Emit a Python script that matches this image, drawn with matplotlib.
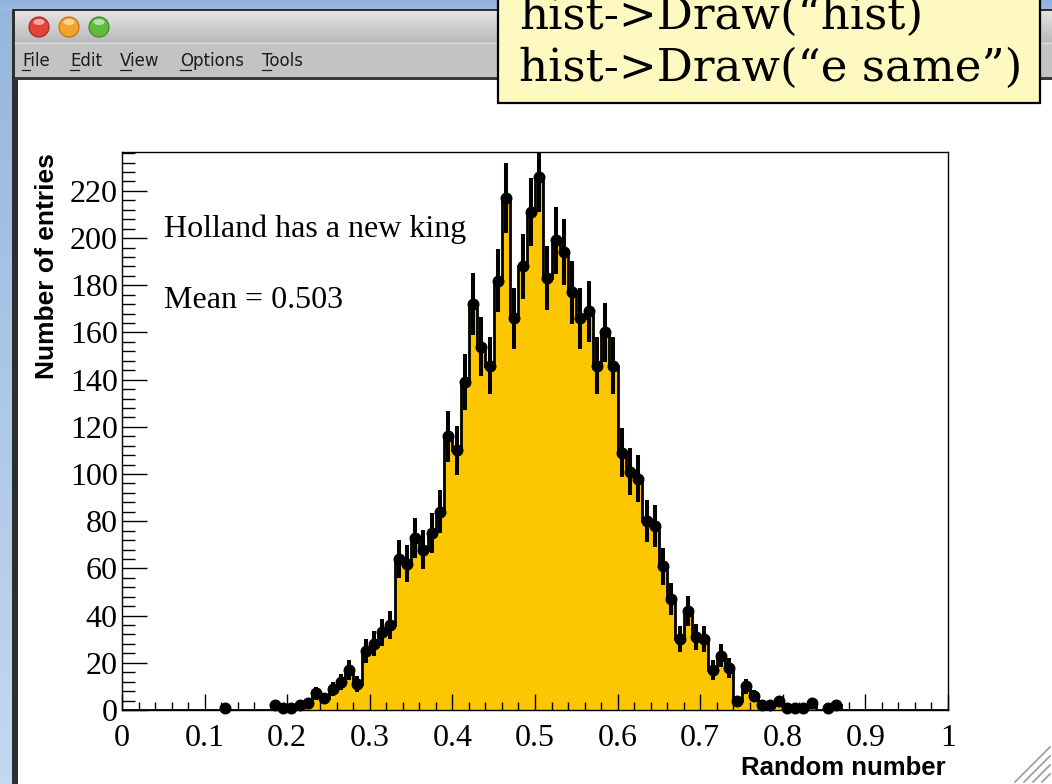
import numpy as np
import matplotlib
matplotlib.use("Agg")
import matplotlib.pyplot as plt
from matplotlib.patches import Rectangle, Circle, Ellipse
from matplotlib.ticker import MultipleLocator, FuncFormatter

# ---- histogram data: 100 bins on [0, 1] ----
x_range = (0.0, 1.0)
n_bins = 100
counts = [
    0, 0, 0, 0, 0, 0, 0, 0, 0, 0,          # 0.00 - 0.10
    0, 0, 1, 0, 0, 0, 0, 0, 2, 1,          # 0.10 - 0.20
    1, 2, 3, 7, 5, 9, 12, 17, 11, 25,      # 0.20 - 0.30
    28, 33, 36, 64, 62, 73, 68, 75, 84, 116,   # 0.30 - 0.40
    110, 139, 172, 154, 146, 182, 217, 166, 188, 211,  # 0.40 - 0.50
    226, 183, 199, 194, 177, 166, 169, 146, 160, 146,  # 0.50 - 0.60
    109, 101, 98, 80, 78, 61, 47, 30, 42, 31,  # 0.60 - 0.70
    30, 17, 23, 18, 4, 10, 6, 2, 2, 4,     # 0.70 - 0.80
    1, 1, 1, 3, 0, 1, 2, 0, 0, 0,          # 0.80 - 0.90
    0, 0, 0, 0, 0, 0, 0, 0, 0, 0,          # 0.90 - 1.00
]
y_max = 236.5
x_ticks = [0, 0.1, 0.2, 0.3, 0.4, 0.5, 0.6, 0.7, 0.8, 0.9, 1]
y_ticks = [0, 20, 40, 60, 80, 100, 120, 140, 160, 180, 200, 220]
x_title = "Random number"
y_title = "Number of entries"
note_text = "Holland has a new king"
mean_value = 0.503
menu_items = ["File", "Edit", "View", "Options", "Tools"]
code_lines = ["hist->Draw(\u201chist)", "hist->Draw(\u201ce same\u201d)"]

W, H = 1052, 784
fig = plt.figure(figsize=(W / 100, H / 100), dpi=100)
fig.patch.set_facecolor("#a6c2e4")

# ---- window chrome (pixel coordinates) ----
bg = fig.add_axes([0, 0, 1, 1], zorder=0)
bg.set_axis_off()

def grad(ax, x0, x1, y0, y1, c_top, c_bot, z):
    top = np.array(matplotlib.colors.to_rgb(c_top))
    bot = np.array(matplotlib.colors.to_rgb(c_bot))
    t = np.linspace(0, 1, 64)[:, None, None]
    img = top * (1 - t) + bot * t
    ax.imshow(img, extent=(x0, x1, y1, y0), origin="upper", aspect="auto",
              interpolation="bilinear", zorder=z)

grad(bg, 0, 14, 0, H, "#96b6de", "#c4d8ef", 1)
grad(bg, 0, W, 0, 10, "#8fb0d9", "#9dbbe0", 1)
bg.add_patch(Rectangle((12, 9), W - 12, H - 9, facecolor="#2e2e2e",
                       edgecolor="none", zorder=2))
grad(bg, 15, W, 11, 42, "#e4e4e4", "#bababa", 3)
bg.add_patch(Rectangle((15, 42), W - 15, 36, facecolor="#c3c3c3",
                       edgecolor="none", zorder=3))
bg.plot([15, W], [42.5, 42.5], color="#dadada", lw=1, zorder=4)
bg.add_patch(Rectangle((15, 77), W - 15, 3, facecolor="#3a3a3a",
                       edgecolor="none", zorder=3))
bg.add_patch(Rectangle((18, 80), W - 18, H - 80, facecolor="white",
                       edgecolor="none", zorder=3))

# traffic-light buttons
for cx, face, rim in [(39, "#e3433b", "#a8231d"), (69, "#f3a42a", "#b86f0c"),
                      (99, "#62bb3e", "#3a8422")]:
    bg.add_patch(Circle((cx, 27), 10, facecolor=face, edgecolor=rim,
                        lw=0.8, zorder=5))
    bg.add_patch(Ellipse((cx, 22), 11, 6, facecolor="white", alpha=0.55,
                         edgecolor="none", zorder=6))

# menu bar
menu_x = [22, 70, 120, 180, 262]
first_w = [8, 9, 11, 11, 9]
for mx, label, fw in zip(menu_x, menu_items, first_w):
    bg.text(mx, 61, label, fontsize=12, family="DejaVu Sans", color="#1c1c1c",
            ha="left", va="center", zorder=6)
    bg.plot([mx, mx + fw], [69.5, 69.5], color="#1c1c1c", lw=0.9, zorder=6)

# resize grip
for k in range(4):
    off = 8 + 9 * k
    bg.plot([W - 2, W - 2 - off], [H - 2 - off, H - 2], color="#9a9a9a",
            lw=1.2, zorder=6)

bg.set_xlim(0, W)
bg.set_ylim(H, 0)

# ---- histogram pad ----
ax_l, ax_r, ax_t, ax_b = 122, 948, 152, 710
ax = fig.add_axes([ax_l / W, 1 - ax_b / H, (ax_r - ax_l) / W, (ax_b - ax_t) / H],
                  zorder=1)
ax.set_facecolor("white")

counts = np.asarray(counts, dtype=float)
edges = np.linspace(x_range[0], x_range[1], n_bins + 1)
centers = 0.5 * (edges[:-1] + edges[1:])
half_w = 0.5 * (edges[1] - edges[0])

ax.stairs(counts, edges, fill=True, facecolor="#fcc600", edgecolor="none",
          zorder=1)
ax.stairs(counts, edges, color="black", lw=2.0, zorder=2)

filled = counts > 0
ax.errorbar(centers[filled], counts[filled], yerr=np.sqrt(counts[filled]),
            xerr=half_w, fmt="none", ecolor="black", elinewidth=2.9,
            capsize=0, zorder=3)
ax.plot(centers[filled], counts[filled], "o", color="black", ms=7.6,
        clip_on=False, zorder=4)

ax.set_xlim(*x_range)
ax.set_ylim(0, y_max)

serif = "Liberation Serif"
ax.set_xticks(x_ticks)
ax.set_yticks(y_ticks)
ax.xaxis.set_major_formatter(FuncFormatter(lambda v, p: f"{v:g}"))
ax.xaxis.set_minor_locator(MultipleLocator(0.02))
ax.yaxis.set_minor_locator(MultipleLocator(4))
ax.tick_params(axis="both", which="both", direction="in", top=False,
               right=False, colors="black", width=1.0, labelsize=23)
ax.tick_params(axis="y", which="major", length=18, pad=3)
ax.tick_params(axis="y", which="minor", length=9)
ax.tick_params(axis="x", which="major", length=11.5, pad=10)
ax.tick_params(axis="x", which="minor", length=5.5)
for lab in ax.get_xticklabels() + ax.get_yticklabels():
    lab.set_family(serif)
for sp in ax.spines.values():
    sp.set_linewidth(1.0)
    sp.set_color("black")

ax.set_xlabel(x_title, fontsize=18.5, fontweight="bold",
              family="Liberation Sans", loc="right")
ax.xaxis.set_label_coords(1 - 2 / (ax_r - ax_l), -(756 - ax_b) / (ax_b - ax_t))
fig.text(47 / W, 1 - 153 / H, y_title, rotation=90, fontsize=19,
         fontweight="bold", family="Liberation Sans", ha="center", va="top")

ax.text((164 - ax_l) / (ax_r - ax_l), (ax_b - 229) / (ax_b - ax_t), note_text,
        transform=ax.transAxes, fontsize=23, family=serif, ha="left",
        va="center")
ax.text((164 - ax_l) / (ax_r - ax_l), (ax_b - 300) / (ax_b - ax_t),
        f"Mean = {mean_value:.3f}", transform=ax.transAxes, fontsize=23,
        family=serif, ha="left", va="center")

# ---- code note on top ----
top = fig.add_axes([0, 0, 1, 1], zorder=2)
top.set_axis_off()
top.patch.set_alpha(0)
top.add_patch(Rectangle((498, -5), 542, 108, facecolor="#fdf9c1",
                        edgecolor="black", lw=1.6, zorder=1))
top.text(519, 29, code_lines[0], fontsize=32.5, family="DejaVu Serif",
         ha="left", va="baseline", zorder=2)
top.text(519, 81, code_lines[1], fontsize=32.5, family="DejaVu Serif",
         ha="left", va="baseline", zorder=2)
top.set_xlim(0, W)
top.set_ylim(H, 0)

fig.savefig("out.png", dpi=100)
